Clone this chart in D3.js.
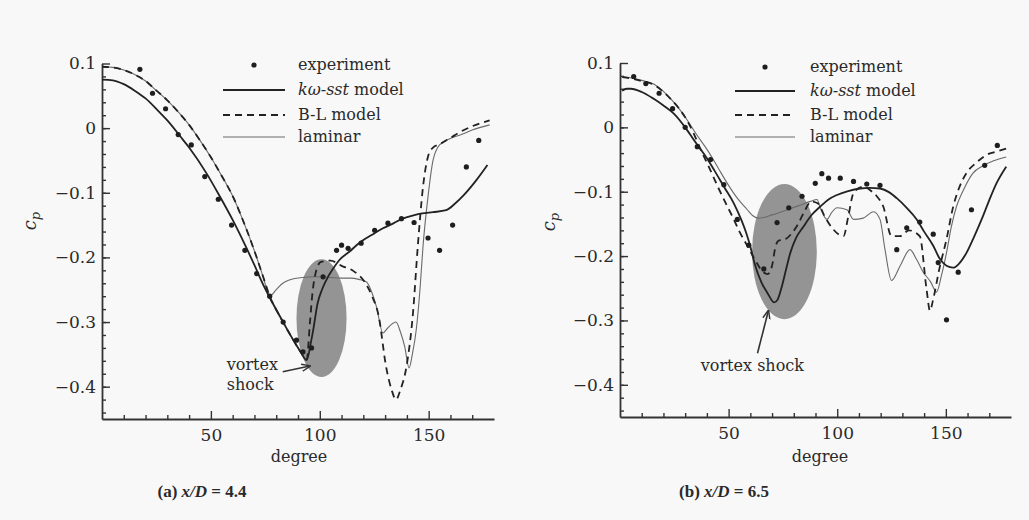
<!DOCTYPE html>
<html>
<head>
<meta charset="utf-8">
<script src="https://cdn.jsdelivr.net/npm/d3@7"></script>
<style>
  body { margin: 0; background: #f8f8f8; }
  svg { display: block; }
  text { font-family: "DejaVu Serif", serif; fill: #2a2a2a; }
</style>
</head>
<body>
<svg id="chart" width="1029" height="520"></svg>
<script>
// ---- panel (a) x/D = 4.4 : [degree, cp]
var aExperiment = [[17.4,0.091],[23.2,0.054],[29.2,0.030],[35,-0.01],[41,-0.026],[47.2,-0.075],[53.4,-0.11],
  [59.5,-0.15],[65.6,-0.189],[71,-0.225],[77,-0.26],[83.2,-0.30],[89.3,-0.328],[92.3,-0.346],[96.2,-0.34],
  [101.5,-0.23],[107.7,-0.189],[110,-0.181],[113,-0.186],[119,-0.178],[125.2,-0.158],[131.3,-0.147],
  [137.5,-0.14],[143.3,-0.146],[149.7,-0.17],[155,-0.189],[161,-0.15],[167.3,-0.06],[173,-0.019]];
var aSst = [[0,0.075],[5,0.074],[10,0.068],[15,0.058],[20,0.046],[26,0.026],[30,0.012],[36,-0.013],[40,-0.03],
  [48,-0.07],[54,-0.105],[60,-0.142],[66,-0.183],[70,-0.212],[74,-0.242],[77,-0.262],[82,-0.293],[87,-0.323],
  [91,-0.345],[94,-0.359],[96,-0.33],[97,-0.312],[99,-0.271],[101,-0.25],[103,-0.235],[106,-0.218],[109,-0.204],
  [114,-0.19],[118,-0.178],[124,-0.165],[129,-0.155],[134,-0.147],[138,-0.14],[143,-0.135],[147,-0.132],
  [152,-0.13],[158,-0.127],[162,-0.117],[166,-0.104],[172,-0.08],[177,-0.057]];
var aBL = [[0,0.095],[5,0.094],[10,0.09],[15,0.083],[20,0.073],[25,0.058],[30,0.043],[35,0.025],[40,0.005],
  [45,-0.019],[50,-0.045],[55,-0.074],[60,-0.105],[65,-0.145],[70,-0.19],[74,-0.23],[77,-0.26],[82,-0.293],
  [87,-0.323],[91,-0.345],[94,-0.358],[95.5,-0.3],[96.5,-0.26],[97.7,-0.23],[100.5,-0.207],[105,-0.205],
  [110,-0.213],[115,-0.22],[121,-0.24],[124,-0.26],[127,-0.29],[130.5,-0.37],[133,-0.405],[135,-0.42],
  [137,-0.405],[139.8,-0.369],[142.8,-0.286],[145,-0.183],[147.4,-0.091],[149.7,-0.044],[152,-0.03],
  [155,-0.025],[160,-0.015],[165,-0.005],[170,0.003],[178,0.012]];
var aLaminar = [[0,0.095],[5,0.094],[10,0.09],[15,0.083],[20,0.073],[25,0.058],[30,0.043],[35,0.025],[40,0.005],
  [45,-0.019],[50,-0.045],[55,-0.074],[60,-0.105],[65,-0.145],[70,-0.19],[74,-0.23],[77,-0.26],[80,-0.25],
  [83,-0.24],[86,-0.235],[92,-0.231],[98,-0.23],[105,-0.231],[110,-0.232],[114,-0.232],[118,-0.234],
  [121.5,-0.238],[124,-0.255],[126,-0.276],[129,-0.317],[131,-0.31],[133.6,-0.302],[135,-0.3],[137,-0.315],
  [139,-0.338],[141,-0.371],[142.5,-0.35],[144.3,-0.312],[146,-0.25],[147.4,-0.183],[149.7,-0.106],
  [152,-0.05],[155,-0.026],[160,-0.016],[165,-0.01],[170,-0.003],[178,0.005]];
// shaded zone: centre degree, centre cp, half width (deg), half height (cp)
var aShade = [100.8, -0.294, 11.5, 0.091];
// arrow: tail [deg, cp], tip [deg, cp]
var aArrow = [[83, -0.377], [95.4, -0.368]];
var aNote = [["vortex", 57.3, -0.374], ["shock", 57.3, -0.405]];

// ---- panel (b) x/D = 6.5
var bExperiment = [[6.3,0.079],[11.9,0.068],[18,0.053],[24.2,0.029],[30,0],[35.6,-0.03],[41.7,-0.05],
  [47.8,-0.089],[54,-0.143],[59.3,-0.183],[66.2,-0.22],[72.3,-0.148],[77.7,-0.125],[83.8,-0.107],
  [89.9,-0.087],[92.9,-0.072],[96,-0.079],[101.4,-0.079],[107.5,-0.084],[113.6,-0.088],[119.7,-0.09],
  [127.4,-0.19],[132,-0.156],[138,-0.147],[144.2,-0.166],[146.5,-0.21],[150.3,-0.299],[155.7,-0.225],
  [161.8,-0.128],[167.9,-0.059],[173.7,-0.028]];
var bSst = [[1,0.057],[3,0.06],[5,0.06],[10,0.055],[15.7,0.044],[20,0.034],[24.9,0.021],[30,0.0],[34.1,-0.02],
  [40,-0.048],[43.3,-0.066],[48,-0.093],[52.4,-0.118],[56,-0.145],[58,-0.163],[60,-0.185],[62,-0.212],
  [65,-0.24],[68,-0.258],[71,-0.272],[72.5,-0.268],[74.6,-0.246],[76.5,-0.22],[78.4,-0.195],[81,-0.172],
  [84.5,-0.154],[88,-0.137],[92.2,-0.123],[96,-0.112],[99.9,-0.105],[105,-0.099],[110.6,-0.095],[115,-0.094],
  [119.7,-0.095],[124,-0.101],[127.4,-0.11],[132,-0.125],[136.6,-0.143],[140,-0.162],[144.2,-0.184],
  [147,-0.203],[150.3,-0.215],[153.4,-0.218],[156,-0.212],[159.5,-0.195],[163,-0.17],[167.1,-0.138],
  [170,-0.113],[173.3,-0.087],[177.8,-0.061]];
var bBL = [[1,0.078],[5,0.076],[10,0.072],[15.7,0.066],[20,0.055],[23.4,0.044],[27,0.03],[31,0.01],[34,-0.01],
  [37.2,-0.035],[41,-0.062],[45,-0.092],[49,-0.12],[52.4,-0.143],[55,-0.162],[58.6,-0.184],[62,-0.205],
  [66,-0.225],[68,-0.228],[70,-0.215],[71.6,-0.185],[73,-0.176],[76,-0.174],[79,-0.165],[82,-0.15],
  [85,-0.13],[88,-0.115],[91,-0.118],[94.5,-0.14],[98.3,-0.159],[102.9,-0.169],[105,-0.14],[107.5,-0.102],
  [112,-0.092],[116,-0.1],[118.2,-0.107],[121.2,-0.123],[125,-0.169],[128.9,-0.169],[133,-0.16],[138,-0.169],
  [141.1,-0.251],[142.7,-0.285],[144,-0.27],[147,-0.22],[150.3,-0.174],[153.4,-0.123],[156,-0.095],
  [159.5,-0.071],[164,-0.055],[168.6,-0.043],[173,-0.038],[177.8,-0.033]];
var bLaminar = [[1,0.079],[5,0.077],[10,0.073],[15.7,0.067],[20,0.056],[23.4,0.044],[27,0.03],[31,0.011],
  [35,-0.01],[40.2,-0.035],[45,-0.062],[49.4,-0.087],[54,-0.11],[58.6,-0.128],[61,-0.137],[63.5,-0.141],
  [66,-0.14],[70,-0.136],[77,-0.128],[82,-0.122],[87.6,-0.115],[90.7,-0.112],[92.2,-0.125],[95.3,-0.143],
  [97.5,-0.132],[99.9,-0.125],[104.5,-0.128],[107.5,-0.143],[112,-0.141],[116.7,-0.131],[119.7,-0.143],
  [122,-0.19],[125,-0.238],[129,-0.215],[133.5,-0.19],[136.5,-0.205],[139.6,-0.225],[143,-0.24],
  [145.7,-0.256],[148,-0.23],[150.3,-0.195],[152.5,-0.155],[154.9,-0.123],[158,-0.098],[162.5,-0.071],
  [167,-0.06],[172,-0.052],[177.8,-0.046]];
var bShade = [75.7, -0.193, 14.9, 0.105];
var bArrow = [[63.3, -0.351], [68.3, -0.285]];
var bNote = [["vortex shock", 37.2, -0.379]];

var xMajor = [50, 100, 150];
var xMinor = [10, 20, 30, 40, 60, 70, 80, 90, 110, 120, 130, 140, 160, 170];
var yMajor = [0.1, 0, -0.1, -0.2, -0.3, -0.4];
var yMinor = d3.range(-22, 5).map(function(i) { return Math.round(i * 2) / 100; });
var legendNames = ["experiment", "model", "B-L model", "laminar"];
var captions = [["(a) ", "4.4"], ["(b) ", "6.5"]];

var svg = d3.select("#chart");
svg.append("rect").attr("width", 1029).attr("height", 520).attr("fill", "#f8f8f8");

svg.append("defs").append("marker")
  .attr("id", "head").attr("viewBox", "0 0 10 10").attr("refX", 9).attr("refY", 5)
  .attr("markerWidth", 9).attr("markerHeight", 9).attr("orient", "auto-start-reverse")
  .attr("markerUnits", "userSpaceOnUse")
  .append("path").attr("d", "M0,1 L10,5 L0,9").attr("fill", "none").attr("stroke", "#333").attr("stroke-width", 1.6);

var panels = [
  {xr: [102, 494], yr: [419, 63.5], exp: aExperiment, sst: aSst, bl: aBL, lam: aLaminar,
   shade: aShade, arrow: aArrow, note: aNote, leg: {x0: 223, x1: 285, tx: 298, ys: [65, 90, 115, 137]},
   ylab: [36, 221], xlab: [299, 462], cap: [202, 497]},
  {xr: [620, 1011], yr: [417, 63], exp: bExperiment, sst: bSst, bl: bBL, lam: bLaminar,
   shade: bShade, arrow: bArrow, note: bNote, leg: {x0: 735, x1: 795, tx: 810, ys: [67, 91, 115, 137]},
   ylab: [555, 222], xlab: [820, 462], cap: [724, 497]}
];

panels.forEach(function(p, pi) {
  var x = d3.scaleLinear().domain([0, 180]).range(p.xr);
  var y = d3.scaleLinear().domain([-0.45, 0.1]).range(p.yr);
  var g = svg.append("g");

  // shaded vortex region
  g.append("ellipse")
    .attr("cx", x(p.shade[0])).attr("cy", y(p.shade[1]))
    .attr("rx", x(p.shade[0] + p.shade[2]) - x(p.shade[0]))
    .attr("ry", y(p.shade[1] - p.shade[3]) - y(p.shade[1]))
    .attr("fill", "#8e8e8e").attr("opacity", 0.95);

  // axes
  g.append("g").attr("transform", "translate(" + p.xr[0] + ",0)")
    .call(d3.axisLeft(y).tickValues(yMajor).tickSizeInner(-8).tickSizeOuter(0).tickPadding(6)
      .tickFormat(function(d) { return d === 0 ? "0" : d3.format(".1f")(d); }));
  g.append("g").attr("transform", "translate(" + p.xr[0] + ",0)")
    .call(d3.axisLeft(y).tickValues(yMinor).tickSize(-4).tickFormat(""))
    .select(".domain").remove();
  g.append("g").attr("transform", "translate(0," + p.yr[0] + ")")
    .call(d3.axisBottom(x).tickValues(xMajor).tickSizeInner(-8).tickSizeOuter(0).tickPadding(10));
  g.append("g").attr("transform", "translate(0," + p.yr[0] + ")")
    .call(d3.axisBottom(x).tickValues(xMinor).tickSize(-4).tickFormat(""))
    .select(".domain").remove();
  g.selectAll(".domain").attr("stroke", "#333").attr("stroke-width", 1.8);
  g.selectAll(".tick line").attr("stroke", "#333").attr("stroke-width", 1.4);
  g.selectAll(".tick text").style("font-family", "DejaVu Serif, serif").style("font-size", "17px").attr("fill", "#333");

  // series
  var line = d3.line().x(function(d) { return x(d[0]); }).y(function(d) { return y(d[1]); }).curve(d3.curveMonotoneX);
  g.append("path").datum(p.lam).attr("d", line).attr("fill", "none")
    .attr("stroke", "#6a6a6a").attr("stroke-width", 1.1);
  g.append("path").datum(p.bl).attr("d", line).attr("fill", "none")
    .attr("stroke", "#222").attr("stroke-width", 1.8).attr("stroke-dasharray", "7,5");
  g.append("path").datum(p.sst).attr("d", line).attr("fill", "none")
    .attr("stroke", "#222").attr("stroke-width", 1.8);
  g.selectAll(".pt").data(p.exp).enter().append("circle")
    .attr("cx", function(d) { return x(d[0]); }).attr("cy", function(d) { return y(d[1]); })
    .attr("r", 2.6).attr("fill", "#1e1e1e");

  // annotation
  g.append("line")
    .attr("x1", x(p.arrow[0][0])).attr("y1", y(p.arrow[0][1]))
    .attr("x2", x(p.arrow[1][0])).attr("y2", y(p.arrow[1][1]))
    .attr("stroke", "#333").attr("stroke-width", 1.6).attr("marker-end", "url(#head)");
  p.note.forEach(function(n) {
    g.append("text").attr("x", x(n[1])).attr("y", y(n[2]))
      .style("font-size", "16px").text(n[0]);
  });

  // legend
  var L = p.leg;
  g.append("circle").attr("cx", (L.x0 + L.x1) / 2).attr("cy", L.ys[0]).attr("r", 2.6).attr("fill", "#1e1e1e");
  g.append("line").attr("x1", L.x0).attr("x2", L.x1).attr("y1", L.ys[1]).attr("y2", L.ys[1])
    .attr("stroke", "#222").attr("stroke-width", 1.8);
  g.append("line").attr("x1", L.x0).attr("x2", L.x1).attr("y1", L.ys[2]).attr("y2", L.ys[2])
    .attr("stroke", "#222").attr("stroke-width", 1.8).attr("stroke-dasharray", "7,5");
  g.append("line").attr("x1", L.x0).attr("x2", L.x1).attr("y1", L.ys[3]).attr("y2", L.ys[3])
    .attr("stroke", "#6a6a6a").attr("stroke-width", 1.1);
  legendNames.forEach(function(name, i) {
    var t = g.append("text").attr("x", L.tx).attr("y", L.ys[i]).attr("dy", "0.33em").style("font-size", "16px");
    if (i === 1) {
      t.append("tspan").style("font-style", "italic").text("k\u03c9-sst ");
    }
    t.append("tspan").text(name);
  });

  // axis titles
  var yl = g.append("text")
    .attr("transform", "translate(" + p.ylab[0] + "," + p.ylab[1] + ") rotate(-90)")
    .attr("text-anchor", "middle").style("font-size", "18px").style("font-style", "italic");
  yl.append("tspan").text("c");
  yl.append("tspan").attr("dy", "4").style("font-size", "13px").text("p");
  g.append("text").attr("x", p.xlab[0]).attr("y", p.xlab[1]).attr("text-anchor", "middle")
    .style("font-size", "16px").text("degree");

  // caption
  var c = g.append("text").attr("x", p.cap[0]).attr("y", p.cap[1]).attr("text-anchor", "middle")
    .style("font-family", "Liberation Serif, serif").style("font-weight", "bold").style("font-size", "17px");
  c.append("tspan").text(captions[pi][0]);
  c.append("tspan").style("font-style", "italic").text("x/D");
  c.append("tspan").text(" = " + captions[pi][1]);
});
</script>
</body>
</html>
